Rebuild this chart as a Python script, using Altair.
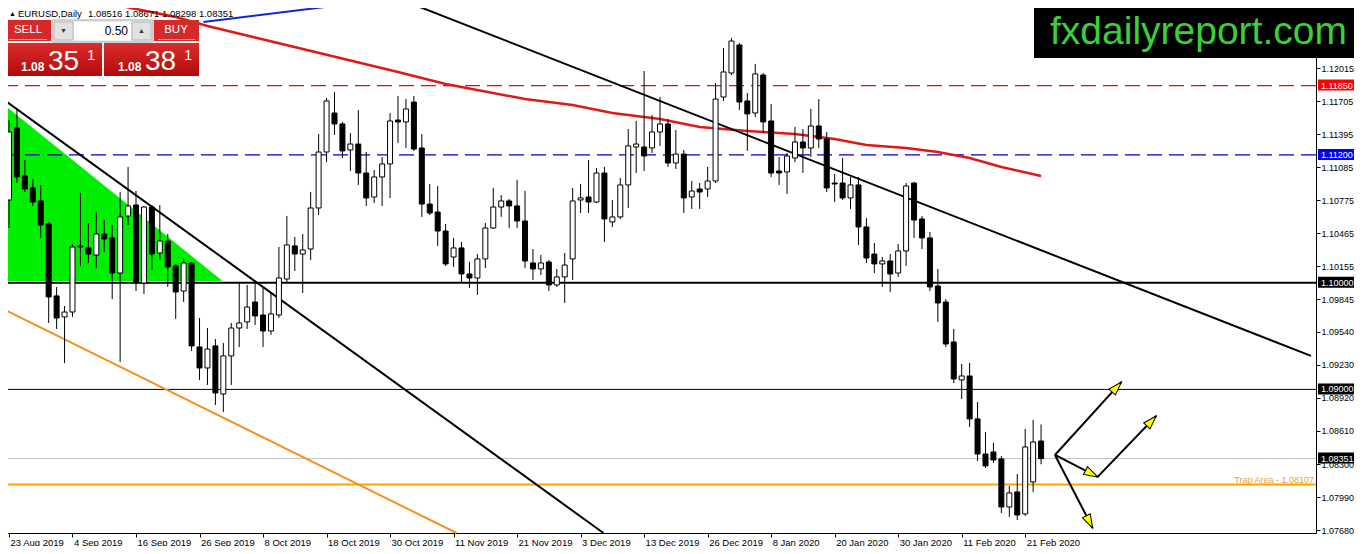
import altair as alt
import pandas as pd

FONT = "Liberation Sans"

# ---------------- candle data (bar 0 = 23 Aug 2019, one bar per trading day) ----------------
opens = [1.10777, 1.11452, 1.11002, 1.10890, 1.10768, 1.10552, 1.09877, 1.09680, 1.09726, 1.10336,
         1.10327, 1.10261, 1.10458, 1.10421, 1.10092, 1.10627, 1.10730, 1.09998, 1.10711, 1.10280,
         1.10392, 1.10158, 1.09923, 1.10186, 1.09398, 1.09201, 1.09408, 1.08957, 1.09314, 1.09576,
         1.09633, 1.09820, 1.09698, 1.09548, 1.09698, 1.10036, 1.10346, 1.10270, 1.10317, 1.10702,
         1.11227, 1.11593, 1.11490, 1.11246, 1.11302, 1.11030, 1.10805, 1.10993, 1.11115, 1.11527,
         1.11509, 1.11696, 1.11265, 1.10739, 1.10664, 1.10486, 1.10242, 1.10327, 1.10083, 1.10045,
         1.10224, 1.10514, 1.10711, 1.10768, 1.10721, 1.10580, 1.10186, 1.10130, 1.10195, 1.09980,
         1.10055, 1.10224, 1.10777, 1.10805, 1.10758, 1.11030, 1.10571, 1.10618, 1.10918, 1.11274,
         1.11274, 1.11265, 1.11415, 1.11490, 1.11124, 1.11208, 1.10805, 1.10880, 1.10880, 1.10955,
         1.11743, 1.11968, 1.12231, 1.11706, 1.11593, 1.11949, 1.11518, 1.11049, 1.11040, 1.11171,
         1.11321, 1.11265, 1.11471, 1.11349, 1.10936, 1.10936, 1.10796, 1.10918, 1.10524, 1.10270,
         1.10177, 1.10205, 1.10092, 1.10299, 1.10936, 1.10599, 1.10421, 1.09970, 1.09820, 1.09445,
         1.09089, 1.09126, 1.08723, 1.08394, 1.08413, 1.08348, 1.07897, 1.08038, 1.07832, 1.08132,
         1.08516]
highs = [1.11527, 1.11621, 1.11152, 1.10974, 1.10918, 1.10571, 1.09961, 1.09783, 1.10364, 1.10843,
         1.10561, 1.10664, 1.10589, 1.10542, 1.10852, 1.11087, 1.10861, 1.10721, 1.10730, 1.10730,
         1.10458, 1.10177, 1.10233, 1.10195, 1.09670, 1.09576, 1.09473, 1.09436, 1.09623, 1.09998,
         1.09980, 1.09998, 1.09952, 1.09905, 1.10336, 1.10627, 1.10430, 1.10458, 1.10852, 1.11396,
         1.11734, 1.11790, 1.11509, 1.11405, 1.11621, 1.11227, 1.11058, 1.11180, 1.11593, 1.11753,
         1.11724, 1.11753, 1.11396, 1.10927, 1.10908, 1.10552, 1.10421, 1.10383, 1.10195, 1.10270,
         1.10561, 1.10890, 1.10824, 1.10786, 1.10965, 1.10861, 1.10317, 1.10261, 1.10214, 1.10130,
         1.10280, 1.10890, 1.10927, 1.11152, 1.11077, 1.11087, 1.10777, 1.10983, 1.11443, 1.11518,
         1.11987, 1.11574, 1.11743, 1.11537, 1.11434, 1.11246, 1.10955, 1.10936, 1.11087, 1.11874,
         1.12203, 1.12297, 1.12250, 1.11781, 1.12053, 1.11968, 1.11677, 1.11180, 1.11218, 1.11462,
         1.11443, 1.11631, 1.11724, 1.11415, 1.11021, 1.11171, 1.10993, 1.10993, 1.10608, 1.10374,
         1.10242, 1.10270, 1.10364, 1.10936, 1.10946, 1.10627, 1.10477, 1.10130, 1.09848, 1.09567,
         1.09239, 1.09248, 1.08882, 1.08601, 1.08498, 1.08376, 1.08094, 1.08207, 1.08629, 1.08713,
         1.08671]
lows = [1.10514, 1.10936, 1.10852, 1.10721, 1.10421, 1.09623, 1.09567, 1.09248, 1.09680, 1.10158,
        1.10186, 1.10139, 1.10289, 1.09848, 1.09257, 1.10542, 1.09923, 1.09895, 1.10120, 1.10214,
        1.09961, 1.09661, 1.09820, 1.09361, 1.09089, 1.09042, 1.08854, 1.08788, 1.09042, 1.09398,
        1.09567, 1.09604, 1.09398, 1.09511, 1.09670, 1.10008, 1.10111, 1.09905, 1.10214, 1.10636,
        1.11133, 1.11387, 1.11171, 1.11049, 1.10918, 1.10721, 1.10749, 1.10721, 1.10796, 1.11312,
        1.11265, 1.11237, 1.10618, 1.10636, 1.10346, 1.10158, 1.10149, 1.09998, 1.09952, 1.09886,
        1.10139, 1.10505, 1.10618, 1.10514, 1.10514, 1.10139, 1.10027, 1.10073, 1.09923, 1.09961,
        1.09811, 1.10027, 1.10655, 1.10655, 1.10749, 1.10383, 1.10524, 1.10599, 1.10702, 1.11030,
        1.11049, 1.11218, 1.11284, 1.11087, 1.11068, 1.10655, 1.10693, 1.10693, 1.10805, 1.10936,
        1.11706, 1.11949, 1.11621, 1.11237, 1.11556, 1.11405, 1.10993, 1.10918, 1.10833, 1.11133,
        1.11030, 1.11180, 1.11265, 1.10852, 1.10758, 1.10777, 1.10693, 1.10355, 1.10186, 1.10092,
        1.09961, 1.09914, 1.10055, 1.10158, 1.10421, 1.10317, 1.09923, 1.09633, 1.09398, 1.09060,
        1.08910, 1.08648, 1.08329, 1.08263, 1.08310, 1.07841, 1.07804, 1.07775, 1.07813, 1.08038,
        1.08298]
closes = [1.11415, 1.10993, 1.10880, 1.10758, 1.10542, 1.09867, 1.09670, 1.09726, 1.10336, 1.10346,
          1.10270, 1.10458, 1.10411, 1.10092, 1.10618, 1.10721, 1.09998, 1.10711, 1.10270, 1.10392,
          1.10149, 1.09914, 1.10186, 1.09408, 1.09201, 1.09379, 1.08967, 1.09314, 1.09576, 1.09623,
          1.09773, 1.09689, 1.09548, 1.09708, 1.10045, 1.10355, 1.10270, 1.10308, 1.10702, 1.11227,
          1.11706, 1.11490, 1.11237, 1.11302, 1.11030, 1.10796, 1.10993, 1.11115, 1.11518, 1.11509,
          1.11631, 1.11255, 1.10739, 1.10655, 1.10486, 1.10177, 1.10327, 1.10083, 1.10045, 1.10224,
          1.10514, 1.10711, 1.10768, 1.10721, 1.10580, 1.10205, 1.10130, 1.10186, 1.09980, 1.10055,
          1.10167, 1.10768, 1.10796, 1.10758, 1.11030, 1.10599, 1.10618, 1.10918, 1.11284, 1.11302,
          1.11190, 1.11415, 1.11490, 1.11124, 1.11208, 1.10796, 1.10861, 1.10852, 1.10955, 1.11724,
          1.11978, 1.12268, 1.11696, 1.11584, 1.11959, 1.11509, 1.11030, 1.11030, 1.11190, 1.11321,
          1.11265, 1.11471, 1.11349, 1.10890, 1.10927, 1.10796, 1.10918, 1.10524, 1.10233, 1.10177,
          1.10205, 1.10083, 1.10299, 1.10908, 1.10589, 1.10421, 1.09961, 1.09811, 1.09426, 1.09098,
          1.09126, 1.08723, 1.08394, 1.08282, 1.08338, 1.07897, 1.08029, 1.07822, 1.08460, 1.08507,
          1.08351]

# moving average (red)
ma_bar = [11, 16, 21, 25, 31, 37, 49, 55, 65, 71, 76, 82, 87, 93, 99, 104, 108, 113, 117, 121, 125, 130]
ma_val = [1.12644, 1.12569, 1.12494, 1.12409, 1.12301, 1.12193, 1.11978, 1.11865, 1.11724, 1.11668,
          1.11593, 1.11537, 1.11462, 1.11424, 1.11396, 1.11349, 1.11293, 1.11265, 1.11227, 1.11171,
          1.11087, 1.11002]

# trend lines: black, black, orange, blue
tl_x1 = [49.5, -0.25, -0.25, 24.5]
tl_y1 = [1.12653, 1.11696, 1.09736, 1.12447]
tl_x2 = [164.0, 74.875, 56.375, 44.875]
tl_y2 = [1.09314, 1.07653, 1.07653, 1.12634]

# green triangle
tri_bar = [-0.125, 26.75]
tri_top = [1.11640, 1.10027]
tri_base = [1.10017, 1.10017]

# horizontal levels
levels = [1.11850, 1.11200, 1.10000, 1.09000, 1.08351, 1.08107]
tagged_levels = [1.11850, 1.11200, 1.10000, 1.09000, 1.08351]
trap_text = "Trap Area - 1.08107"
trap_level = 1.08107

# arrows
arr_x1 = [131.75, 131.75, 137.125, 131.75]
arr_y1 = [1.08385, 1.08385, 1.08179, 1.08385]
arr_x2 = [140.125, 137.125, 144.5, 136.5]
arr_y2 = [1.09070, 1.08179, 1.08751, 1.07700]

# axes
date_ticks = [0, 8, 16, 24, 32, 40, 48, 56, 64, 72, 80, 88, 96, 104, 112, 120, 128]
date_labels = ["23 Aug 2019", "4 Sep 2019", "16 Sep 2019", "26 Sep 2019", "8 Oct 2019", "18 Oct 2019",
               "30 Oct 2019", "11 Nov 2019", "21 Nov 2019", "3 Dec 2019", "13 Dec 2019", "26 Dec 2019",
               "8 Jan 2020", "20 Jan 2020", "30 Jan 2020", "11 Feb 2020", "21 Feb 2020"]
price_ticks = [1.12015, 1.11705, 1.11395, 1.11085, 1.10775, 1.10465, 1.10155, 1.09845, 1.09540,
               1.09230, 1.08920, 1.08610, 1.08300, 1.07990, 1.07680]

header_symbol = "EURUSD,Daily"
header_ohlc = "1.08516 1.08671 1.08298 1.08351"
lot_text = "0.50"
sell_big, buy_big = "35", "38"
price_prefix = "1.08"
logo_text = "fxdailyreport.com"

# ---------------- frames ----------------
df = pd.DataFrame(dict(bar=list(range(len(opens))), open=opens, high=highs, low=lows, close=closes))
df["fill"] = ["#000000" if c < o else "#FFFFFF" for o, c in zip(opens, closes)]

XS = alt.Scale(domain=[-0.25, 164.0], nice=False, zero=False)
YS = alt.Scale(domain=[1.07653, 1.12653], nice=False, zero=False)

label_expr = "[" + ",".join("'%s'" % s for s in date_labels) + "][round(datum.value / 8)]"

X_AXIS = alt.Axis(values=date_ticks, labelExpr=label_expr, title=None, grid=False, orient="bottom",
                  tickSize=4, tickColor="black", domainColor="black", domainWidth=1, tickWidth=1,
                  labelAlign="left", labelBaseline="alphabetic", labelFont=FONT, labelFontSize=9.5,
                  labelColor="black", labelPadding=8, labelOffset=1, labelOverlap=False, labelFlush=False)
Y_AXIS = alt.Axis(values=price_ticks, format=".5f", title=None, grid=False, orient="right",
                  tickSize=4, tickColor="black", domainColor="black", domainWidth=1, tickWidth=1,
                  labelAlign="left", labelBaseline="middle", labelFont=FONT, labelFontSize=9,
                  labelColor="black", labelPadding=1, labelOverlap=False, labelFlush=False)


def xq(field):
    return alt.X(f"{field}:Q", scale=XS, axis=X_AXIS)


def yq(field):
    return alt.Y(f"{field}:Q", scale=YS, axis=Y_AXIS)


one = pd.DataFrame({"t": [""]})
layers = []

# green triangle
tri_df = pd.DataFrame({"bar": tri_bar, "top": tri_top, "base": tri_base})
layers.append(alt.Chart(tri_df).mark_area(color="#00EE00", opacity=1).encode(
    x=xq("bar"), y=yq("top"), y2="base"))

# horizontal lines
level_styles = [("#FF0000", 1.3, [15, 7]), ("#0000C8", 1.3, [15, 7]), ("#000000", 2, None),
                ("#000000", 1, None), ("#C0C0C0", 1, None), ("#FFA500", 2, None)]
for p, (c, w, d) in zip(levels, level_styles):
    kw = dict(color=c, strokeWidth=w)
    if d:
        kw["strokeDash"] = d
    layers.append(alt.Chart(pd.DataFrame({"p": [p]})).mark_rule(**kw).encode(y=yq("p")))

# moving average
ma_df = pd.DataFrame({"bar": ma_bar, "ma": ma_val})
layers.append(alt.Chart(ma_df).mark_line(color="#E01818", strokeWidth=2.5).encode(
    x=xq("bar"), y=yq("ma")))

# trend lines
tl_df = pd.DataFrame({"x1": tl_x1, "y1": tl_y1, "x2": tl_x2, "y2": tl_y2,
                      "c": ["#000000", "#000000", "#F39224", "#1028C8"]})
layers.append(alt.Chart(tl_df).mark_rule(strokeWidth=2).encode(
    x=xq("x1"), y=yq("y1"), x2="x2", y2="y2", color=alt.Color("c:N", scale=None)))

# candles
layers.append(alt.Chart(df).mark_rule(color="black", strokeWidth=1).encode(
    x=xq("bar"), y=yq("low"), y2="high"))
layers.append(alt.Chart(df).mark_bar(width=5, stroke="black", strokeWidth=1).encode(
    x=xq("bar"), y=yq("open"), y2="close", fill=alt.Fill("fill:N", scale=None)))

# arrows
arr_df = pd.DataFrame({"x1": arr_x1, "y1": arr_y1, "x2": arr_x2, "y2": arr_y2,
                       "ang": [42.5, 117.6, 43.1, 152.5]})
layers.append(alt.Chart(arr_df).mark_rule(color="black", strokeWidth=2).encode(
    x=xq("x1"), y=yq("y1"), x2="x2", y2="y2"))
layers.append(alt.Chart(arr_df).mark_point(
    shape="M0,0L-0.8,2.5L0.8,2.5Z", size=120, filled=True, color="#FFFF00",
    stroke="black", strokeWidth=1, opacity=1).encode(
    x=xq("x2"), y=yq("y2"), angle=alt.Angle("ang:Q", scale=None)))

# trap area text
layers.append(alt.Chart(pd.DataFrame({"t": [trap_text], "p": [trap_level]})).mark_text(
    align="right", baseline="alphabetic", dy=-2, font=FONT, fontSize=9, color="#F0A030").encode(
    x=alt.value(1312), y=yq("p"), text="t:N"))


# ---------- overlays (positions in screen pixels, x offset by plot origin) ----------
def box(x1, y1, x2, y2, fill, stroke=None):
    kw = dict(color=fill)
    if stroke:
        kw.update(stroke=stroke, strokeWidth=1)
    return alt.Chart(one).mark_rect(**kw).encode(
        x=alt.value(x1 - 2), x2=alt.value(x2 - 2), y=alt.value(y1), y2=alt.value(y2))


def label(text, x, y, size, color, align="left", baseline="middle", weight="normal", font=FONT):
    return alt.Chart(pd.DataFrame({"t": [text]})).mark_text(
        align=align, baseline=baseline, fontSize=size, color=color, font=font,
        fontWeight=weight).encode(x=alt.value(x - 2), y=alt.value(y), text="t:N")


# axis tags
tag_df = pd.DataFrame({"p": tagged_levels, "c": ["#FF0000", "#0000FF", "#000000", "#000000", "#000000"]})
layers.append(alt.Chart(tag_df).mark_rect(yOffset=-6, y2Offset=5).encode(
    x=alt.value(1316), x2=alt.value(1360), y=yq("p"), y2="p", color=alt.Color("c:N", scale=None)))
layers.append(alt.Chart(tag_df).mark_text(align="left", baseline="middle", font=FONT, fontSize=9,
                                          color="white").encode(
    x=alt.value(1319), y=yq("p"), text=alt.Text("p:Q", format=".5f")))

# header
layers.append(label("▲", 9, 14, 7, "#000000"))
layers.append(label(header_symbol, 18, 14, 9.5, "#000000"))
layers.append(label(header_ohlc, 88, 14, 9.5, "#000000"))

# trade panel
btn_red = "#D42A2A"
layers.append(box(5, 20, 51, 41, btn_red))
layers.append(box(9, 39, 47, 40, "#EFA0A0"))
layers.append(label("SELL", 28, 30, 11.5, "white", align="center"))
layers.append(box(52, 20, 153, 42, "#EEEEEE", "#A8A8A8"))
layers.append(box(74, 22, 131, 40, "#FFFFFF"))
layers.append(box(54, 22, 73, 40, "#E2E2E2", "#B4B4B4"))
layers.append(box(132, 22, 151, 40, "#E2E2E2", "#B4B4B4"))
layers.append(label("▼", 63.5, 31, 7, "#333333", align="center"))
layers.append(label("▲", 141.5, 31, 7, "#333333", align="center"))
layers.append(label(lot_text, 128, 31, 12, "#000000", align="right"))
layers.append(box(154, 20, 199, 41, btn_red))
layers.append(box(158, 39, 195, 40, "#EFA0A0"))
layers.append(label("BUY", 176, 30, 11.5, "white", align="center"))

grad = alt.LinearGradient(gradient="linear", x1=0, x2=0, y1=0, y2=1,
                          stops=[alt.GradientStop(color="#DC2C2C", offset=0),
                                 alt.GradientStop(color="#B20A0A", offset=1)])
for bx1, bx2, big, xs in [(5, 102, sell_big, (21, 48, 87)), (104, 199, buy_big, (118, 145, 184))]:
    layers.append(alt.Chart(one).mark_rect(color=grad).encode(
        x=alt.value(bx1 - 2), x2=alt.value(bx2 - 2), y=alt.value(43), y2=alt.value(76)))
    layers.append(label(price_prefix, xs[0], 71, 12, "white", baseline="alphabetic", weight="bold"))
    layers.append(label(big, xs[1], 70, 28, "white", baseline="alphabetic"))
    layers.append(label("1", xs[2], 60, 15, "white", baseline="alphabetic"))

# logo
layers.append(box(1034, 0, 1362, 58, "#000000"))
layers.append(label(logo_text, 1050, 44, 39, "#3AD03A", baseline="alphabetic"))

chart = alt.layer(*layers).properties(
    width=1314, height=533,
    padding={"left": -6, "top": -8, "right": 38, "bottom": 13},
    autosize=alt.AutoSizeParams(type="none"),
    background="white",
).configure_view(stroke=None)

chart.save("out.html", embed_options={"renderer": "svg", "actions": False})
